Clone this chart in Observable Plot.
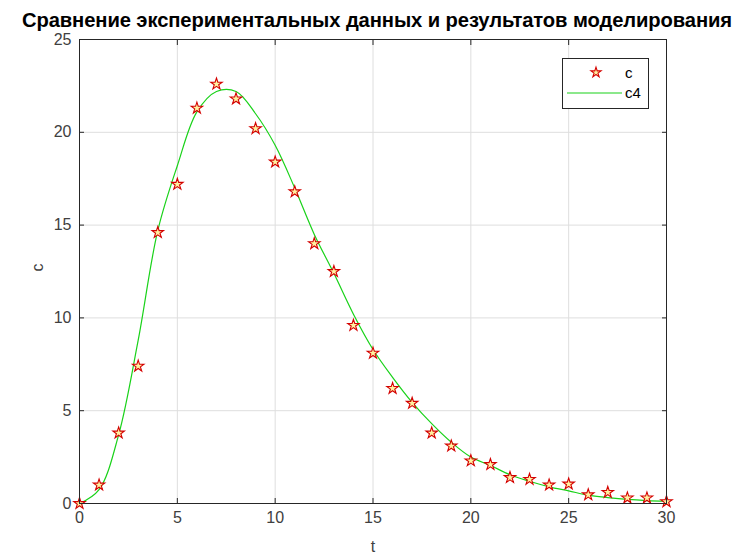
<!DOCTYPE html>
<html><head><meta charset="utf-8">
<script src="https://cdn.jsdelivr.net/npm/d3@7"></script>
<script src="https://cdn.jsdelivr.net/npm/@observablehq/plot@0.6"></script>
<style>
body{margin:0;background:#fff;font-family:"Liberation Sans",Arial,sans-serif;}
#wrap{position:relative;width:737px;height:557px;background:#fff;}
#title{height:30px;width:754px;text-align:center;font-weight:bold;font-size:20.2px;line-height:30px;color:#000;white-space:nowrap;position:relative;top:5px;letter-spacing:-0.1px}
#legend{position:absolute;left:0;top:0}
</style></head><body>
<div id="wrap"><div id="title">Сравнение экспериментальных данных и результатов моделирования</div><div id="chart"></div></div>
<script>
const titleText = "Сравнение экспериментальных данных и результатов моделирования";
const xLabel = "t";
const yLabel = "c";
const seriesNames = ["c", "c4"];
const xTicks = [0, 5, 10, 15, 20, 25, 30];
const yTicks = [0, 5, 10, 15, 20, 25];
const t = [0,1,2,3,4,5,6,7,8,9,10,11,12,13,14,15,16,17,18,19,20,21,22,23,24,25,26,27,28,29,30];
const cExp = [0,1.0,3.8,7.4,14.6,17.2,21.3,22.6,21.8,20.2,18.4,16.8,14.0,12.5,9.6,8.1,6.2,5.4,3.8,3.1,2.3,2.1,1.4,1.3,1.0,1.05,0.47,0.6,0.3,0.3,0.1];
const c4 = [0,0.75,3.7,8.8,14.7,18.2,21.1,22.2,22.2,21.0,19.3,17.0,14.5,12.4,10.2,8.3,6.8,5.45,4.3,3.3,2.5,2.05,1.55,1.2,0.9,0.68,0.45,0.32,0.22,0.16,0.13];

const expData = t.map((v, i) => ({t: v, c: cExp[i]}));
const modelData = t.map((v, i) => ({t: v, c4: c4[i]}));

const font = "Liberation Sans, Arial, sans-serif";
const chart = Plot.plot({
  width: 737, height: 527,
  marginLeft: 79, marginRight: 71, marginTop: 9, marginBottom: 54,
  style: {fontFamily: font, fontSize: "16px", color: "#262626", background: "white", overflow: "visible"},
  x: {domain: [0, 30], ticks: xTicks, label: null},
  y: {domain: [0, 25], ticks: yTicks, label: null},
  marks: [
    Plot.gridX(xTicks, {stroke: "#dedede", strokeOpacity: 1}),
    Plot.gridY(yTicks, {stroke: "#dedede", strokeOpacity: 1}),
    Plot.line(modelData, {x: "t", y: "c4", stroke: "#19d219", strokeWidth: 1.2, curve: "catmull-rom"}),
    Plot.dot(expData, {x: "t", y: "c", symbol: "star", r: 3.6, fill: "#fff2a0", stroke: "#d40000", strokeWidth: 1.1}),
    Plot.axisX(xTicks, {anchor: "bottom", tickSize: -5, tickPadding: 13, label: null, stroke: "#262626", fill: "#404040"}),
    Plot.axisX(xTicks, {anchor: "top", tickSize: -5, tickFormat: () => "", label: null, stroke: "#262626"}),
    Plot.axisY(yTicks, {anchor: "left", tickSize: -5, tickPadding: 13, label: null, stroke: "#262626", fill: "#404040"}),
    Plot.axisY(yTicks, {anchor: "right", tickSize: -5, tickFormat: () => "", label: null, stroke: "#262626"}),
    Plot.frame({stroke: "#262626", strokeWidth: 1}),
    Plot.text([xLabel], {frameAnchor: "bottom", lineAnchor: "middle", dy: 43, text: d => d, fontSize: 16, fill: "#404040"}),
    Plot.text([yLabel], {frameAnchor: "left", lineAnchor: "middle", dx: -42, rotate: -90, text: d => d, fontSize: 16, fill: "#404040"})
  ]
});
document.getElementById("chart").appendChild(chart);

// legend (inside axes, upper right)
const lg = d3.select("#wrap").append("svg").attr("id", "legend").attr("width", 737).attr("height", 557)
  .style("position", "absolute").style("left", 0).style("top", 0).style("pointer-events", "none");
lg.append("rect").attr("x", 562.5).attr("y", 58.5).attr("width", 86).attr("height", 50)
  .attr("fill", "white").attr("stroke", "#262626").attr("stroke-width", 1);
lg.append("path").attr("d", d3.symbol(d3.symbolStar, Math.PI * 3.2 * 3.2)()).attr("transform", "translate(596,72.5)")
  .attr("fill", "#fff2a0").attr("stroke", "#d40000").attr("stroke-width", 1.1);
lg.append("line").attr("x1", 567).attr("x2", 622).attr("y1", 93).attr("y2", 93).attr("stroke", "#19d219").attr("stroke-width", 1.2);
lg.selectAll("text.l").data(seriesNames).join("text").attr("x", 625).attr("y", (d, i) => 73 + i * 20)
  .attr("dy", "0.35em").attr("font-family", font).attr("font-size", 15).attr("fill", "#000").text(d => d);
</script>
</body></html>
